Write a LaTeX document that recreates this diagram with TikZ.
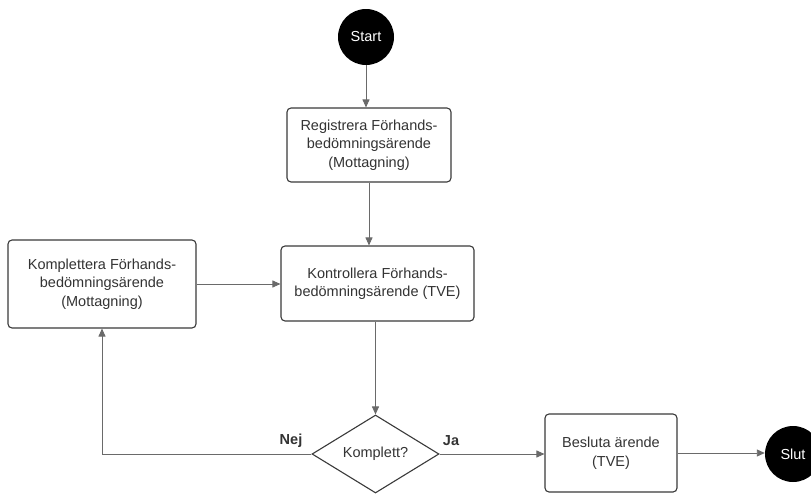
\documentclass[tikz,border=0pt]{standalone}
\usepackage{fontspec}
\setmainfont{Liberation Sans}
\usetikzlibrary{arrows.meta,shapes.geometric}
\definecolor{boxc}{HTML}{3A3A3A}
\definecolor{linec}{HTML}{6A6A6A}
\definecolor{txt}{HTML}{333333}
\newcommand\fs{\fontsize{14.5}{18.5}\selectfont}
\begin{document}
\begin{tikzpicture}[x=1pt,y=-1pt,
  box/.style={draw=boxc, line width=1.1pt, rounded corners=4pt, fill=white, text=txt, align=center, font=\fs, inner sep=0pt},
  conn/.style={draw=linec, line width=0.9pt, -{Triangle[length=8pt,width=7pt]}},
  term/.style={circle, fill=black, text=white, minimum size=56pt, inner sep=0pt, font=\fs},
  lbl/.style={text=txt, font=\fs\bfseries, inner sep=0pt}]
\useasboundingbox (0,0) rectangle (811,493);
\clip (0,0) rectangle (811,493);
\node[term] (start) at (366,37) {Start};
\node[box, minimum width=164pt, minimum height=74pt] (reg) at (369,145) {Registrera Förhands-\\bedömningsärende\\(Mottagning)};
\node[box, minimum width=193pt, minimum height=75pt] (kon) at (377.5,283.5) {Kontrollera Förhands-\\bedömningsärende (TVE)};
\node[box, minimum width=188pt, minimum height=88pt] (kom) at (102,284) {Komplettera Förhands-\\bedömningsärende\\(Mottagning)};
\node[diamond, draw=boxc, line width=1.1pt, fill=white, text=txt, font=\fs, inner sep=0pt, minimum width=127pt, minimum height=78pt, aspect=1.63] (dia) at (375.5,454) {Komplett?};
\node[box, minimum width=132pt, minimum height=78pt] (bes) at (611,453) {Besluta ärende\\(TVE)};
\node[term] (slut) at (793,454) {Slut};
\node[lbl] (nej) at (291,441) {Nej};
\node[lbl] (ja) at (451,441) {Ja};
\draw[conn] (start) -- (start |- reg.north);
\draw[conn] (reg.south) -- (reg.south |- kon.north);
\draw[conn] (kom.east) -- (kom.east -| kon.west);
\draw[conn] (dia.north |- kon.south) -- (dia.north);
\draw[conn] (dia.west) -| (kom.south);
\draw[conn] (dia.east) -- (dia.east -| bes.west);
\draw[conn] (bes.east) -- (bes.east -| slut.west);
\end{tikzpicture}
\end{document}
